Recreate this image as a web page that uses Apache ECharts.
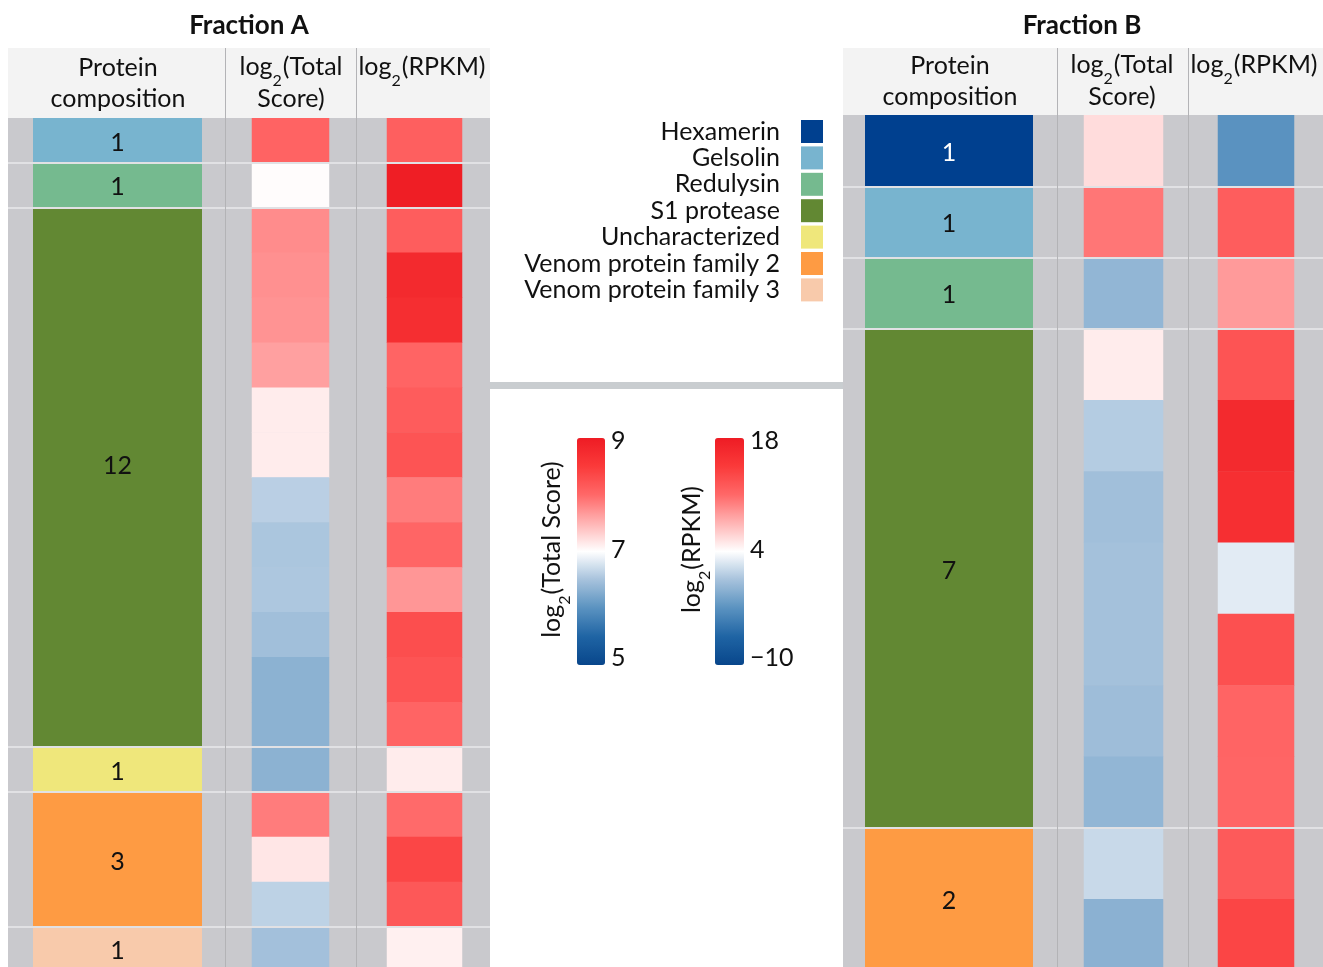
<!DOCTYPE html>
<html><head><meta charset="utf-8">
<script src="https://cdn.jsdelivr.net/npm/echarts@6/dist/echarts.min.js"></script>
<style>html,body{margin:0;padding:0;background:#fff;overflow:hidden}#c{width:1323px;height:1000px}</style>
</head><body><div id="c"></div>
<script>
// ---------------- DATA ----------------
const legendNames = ['Hexamerin','Gelsolin','Redulysin','S1 protease','Uncharacterized','Venom protein family 2','Venom protein family 3'];

const fracA_groups = ['Gelsolin','Redulysin','S1 protease','Uncharacterized','Venom protein family 2','Venom protein family 3'];
const fracA_counts = [1, 1, 12, 1, 3, 1];
const fracA_totalScore = [8.05, 7.02, 7.76, 7.74, 7.72, 7.63, 7.13, 7.13, 6.61, 6.53, 6.54, 6.47, 6.33, 6.33, 6.33, 7.87, 7.17, 6.63, 6.48];
const fracA_rpkm = [11.7, 17.8, 11.8, 16.4, 15.9, 11.3, 11.9, 12.5, 10.1, 11.2, 8.9, 13.0, 12.5, 11.3, 4.9, 10.9, 13.6, 12.2, 4.7];

const fracB_groups = ['Hexamerin','Gelsolin','Redulysin','S1 protease','Venom protein family 2'];
const fracB_counts = [1, 1, 1, 7, 2];
const fracB_totalScore = [7.23, 7.91, 6.37, 7.13, 6.58, 6.47, 6.49, 6.49, 6.45, 6.37, 6.69, 6.32];
const fracB_rpkm = [-3.0, 11.8, 8.7, 12.5, 16.4, 15.8, 2.85, 12.8, 11.3, 11.2, 12.1, 13.7];

const tsRange = [5, 9];
const tsTicks = 2;
const rpRange = [-10, 18];
const rpTicks = 14;

// ---------------- STYLE ----------------
const FONT = 'Lato';
const FS = 25;
const TXT = '#111111';
const familyColors = {
  'Hexamerin':'#00408f','Gelsolin':'#78b4cf','Redulysin':'#75ba8f','S1 protease':'#628833',
  'Uncharacterized':'#efe77b','Venom protein family 2':'#fe9b43','Venom protein family 3':'#f8caab'
};
const labelOffsets = {'S1 protease': 0.45};
const CMAP = ['#08468b','#1f64a4','#5a92c0','#a6c2dc','#ffffff','#ffb4b4','#ff6868','#fa3a3a','#ee1c24'];

const chart = echarts.init(document.getElementById('c'), null, {renderer:'canvas'});
const grids = [], xAxes = [], yAxes = [], series = [];
const tsIdx = [], rpIdx = [];

function addGrid(g){ grids.push(Object.assign({containLabel:false}, g)); return grids.length - 1; }

const richTop = {
  m: {fontSize: FS, fontFamily: FONT, color: TXT, lineHeight: FS, verticalAlign: 'top'},
  s: {fontSize: 16, fontFamily: FONT, color: TXT, lineHeight: 16, padding: [18, 1, 0, 0], verticalAlign: 'top'}
};
function sub(a, b){ return '{m|' + a + '}{s|2}{m|' + b + '}'; }

function buildFraction(top, rowH, groups, counts, ts, rp, cols){
  const N = counts.reduce((a,b)=>a+b, 0);
  const H = rowH * N;
  const rowCats = ts.map((_, i) => String(i));
  const gBg = addGrid({left: cols.bg[0], width: cols.bg[1], top: top, height: H, show: true, backgroundColor: '#c9c9cd', borderWidth: 0});
  xAxes.push({gridIndex: gBg, type: 'value', min: 0, max: 1, show: false});
  yAxes.push({gridIndex: gBg, type: 'value', min: 0, max: N, inverse: true, show: false});
  let cum = 0; const bounds = [];
  counts.forEach((c, i) => { cum += c; if (i < counts.length - 1) bounds.push(cum); });
  series.push({type: 'line', xAxisIndex: gBg, yAxisIndex: gBg, data: [], z: 1, silent: true,
    markLine: {silent: true, symbol: 'none', label: {show: false}, lineStyle: {color: '#e1e1e4', width: 2, type: 'solid'},
      data: bounds.map(b => ({yAxis: b}))}});
  const gC = addGrid({left: cols.comp[0], width: cols.comp[1], top: top, height: H});
  xAxes.push({gridIndex: gC, type: 'category', data: [''], show: false});
  yAxes.push({gridIndex: gC, type: 'value', min: 0, max: N, inverse: true, show: false});
  groups.forEach((g, i) => series.push({
    type: 'bar', name: g, stack: 'comp' + gC, xAxisIndex: gC, yAxisIndex: gC, barWidth: '100%',
    data: [counts[i]], itemStyle: {color: familyColors[g]}, z: 3,
    label: {show: true, position: 'inside', fontSize: FS, fontFamily: FONT, color: g === 'Hexamerin' ? '#ffffff' : TXT,
      offset: [0, counts[i] > 4 ? -(labelOffsets[g] || 0) * rowH * (rowH > 60 ? 0.22 : 0.55) : 2]},
    emphasis: {disabled: true}
  }));
  [[cols.ts, ts, tsIdx], [cols.rp, rp, rpIdx]].forEach(([c, vals, store]) => {
    const gH = addGrid({left: c[0], width: c[1], top: top, height: H});
    xAxes.push({gridIndex: gH, type: 'category', data: [''], show: false});
    yAxes.push({gridIndex: gH, type: 'category', data: rowCats, inverse: true, show: false});
    store.push(series.length);
    series.push({type: 'heatmap', xAxisIndex: gH, yAxisIndex: gH, z: 3,
      data: vals.map((v, i) => [0, i, v]), emphasis: {disabled: true}, silent: true});
  });
}

buildFraction(118, 44.94, fracA_groups, fracA_counts, fracA_totalScore, fracA_rpkm,
  {bg: [8, 482], comp: [33, 169], ts: [252, 77], rp: [387, 75]});
buildFraction(115, 71.3, fracB_groups, fracB_counts, fracB_totalScore, fracB_rpkm,
  {bg: [843, 480], comp: [865, 168], ts: [1084, 79], rp: [1218, 76]});

function addColorbarAxis(left, width, range, interval, nameA, nameB, gap){
  const g = addGrid({left: left, width: width, top: 441, height: 217});
  xAxes.push({gridIndex: g, type: 'value', show: false});
  yAxes.push({gridIndex: g, type: 'value', min: range[0], max: range[1], interval: interval, position: 'right',
    axisLine: {show: false}, axisTick: {show: false}, splitLine: {show: false},
    axisLabel: {fontSize: FS, fontFamily: FONT, color: TXT, margin: 6, formatter: v => String(v).replace('-', '\u2212')}});
  yAxes.push({gridIndex: g, type: 'value', min: range[0], max: range[1], position: 'left',
    axisLine: {show: false}, axisTick: {show: false}, splitLine: {show: false}, axisLabel: {show: false},
    name: sub(nameA, nameB), nameLocation: 'middle', nameGap: gap, nameRotate: 90,
    nameTextStyle: {fontSize: FS, fontFamily: FONT, color: TXT, rich: richTop}});
}
addColorbarAxis(577, 28, tsRange, tsTicks, 'log', '(Total Score)', 13);
addColorbarAxis(715, 29, rpRange, rpTicks, 'log', '(RPKM)', 11);

const gfx = [];
function headerText(x, y, t, rich){
  gfx.push({type: 'text', x: x, y: y, z: 20, style: {text: t, fill: TXT, fontSize: FS, fontFamily: FONT,
    textAlign: 'center', textVerticalAlign: 'middle', rich: rich ? richTop : undefined}});
}
gfx.push({type: 'rect', shape: {x: 8, y: 48, width: 482, height: 70}, style: {fill: '#f3f3f3'}, z: 5});
gfx.push({type: 'rect', shape: {x: 843, y: 48, width: 480, height: 67}, style: {fill: '#f3f3f3'}, z: 5});
gfx.push({type: 'rect', shape: {x: 490, y: 382, width: 353, height: 7}, style: {fill: '#c9cdd0'}, z: 5});
[225.5, 356.5, 1057.5, 1188.5].forEach(x => gfx.push({type: 'line', shape: {x1: x, y1: 48, x2: x, y2: 1000},
  style: {stroke: '#b3b3b6', lineWidth: 1}, z: 10}));
gfx.push({type: 'text', x: 249, y: 26, z: 20, style: {text: 'Fraction A', fill: TXT, fontSize: 26, fontWeight: 'bold', fontFamily: FONT, textAlign: 'center', textVerticalAlign: 'middle'}});
gfx.push({type: 'text', x: 1082, y: 26, z: 20, style: {text: 'Fraction B', fill: TXT, fontSize: 26, fontWeight: 'bold', fontFamily: FONT, textAlign: 'center', textVerticalAlign: 'middle'}});
headerText(118, 68, 'Protein'); headerText(118, 99, 'composition');
headerText(291, 67, sub('log', '(Total'), true); headerText(291, 99, 'Score)');
headerText(422, 67, sub('log', '(RPKM)'), true);
headerText(950, 66, 'Protein'); headerText(950, 97, 'composition');
headerText(1122, 65, sub('log', '(Total'), true); headerText(1122, 97, 'Score)');
headerText(1254, 65, sub('log', '(RPKM)'), true);

chart.setOption({
  animation: false,
  grid: grids, xAxis: xAxes, yAxis: yAxes, series: series,
  legend: {data: legendNames, orient: 'vertical', right: 500, top: 119, itemWidth: 22, itemHeight: 23, itemGap: 1.4,
    align: 'right', icon: 'rect', selectedMode: false, padding: 0,
    textStyle: {fontSize: FS, fontFamily: FONT, color: TXT, padding: [0, 16, 0, 0]}},
  visualMap: [
    {type: 'continuous', min: tsRange[0], max: tsRange[1], seriesIndex: tsIdx, left: 577, top: 438, itemWidth: 28, itemHeight: 227,
      padding: 0, calculable: false, hoverLink: false, inRange: {color: CMAP}},
    {type: 'continuous', min: rpRange[0], max: rpRange[1], seriesIndex: rpIdx, left: 715, top: 438, itemWidth: 29, itemHeight: 227,
      padding: 0, calculable: false, hoverLink: false, inRange: {color: CMAP}}
  ],
  graphic: gfx
});
</script></body></html>
